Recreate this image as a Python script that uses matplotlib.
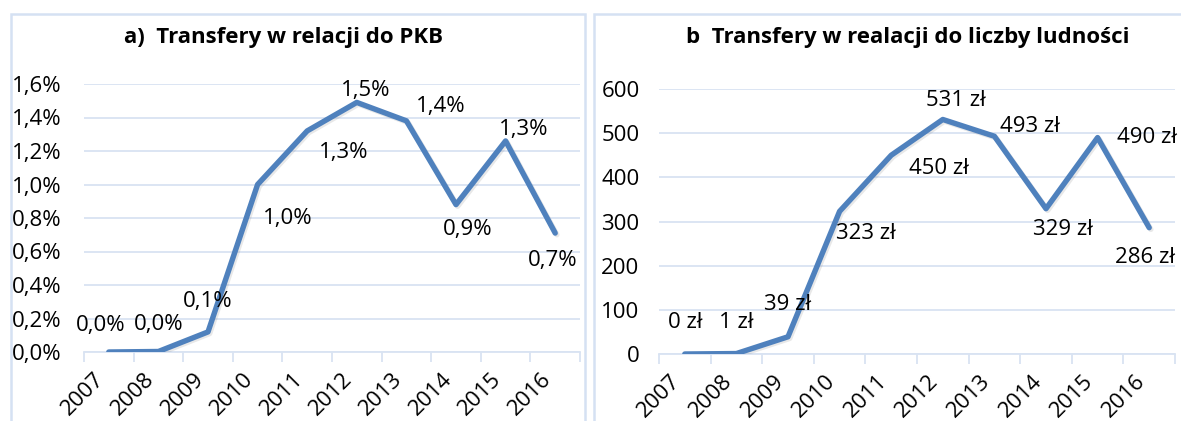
import matplotlib
matplotlib.use("Agg")
import matplotlib.pyplot as plt
from matplotlib.patches import Rectangle
from matplotlib.ticker import FixedLocator, FuncFormatter
import matplotlib.patheffects as pe

plt.rcParams['font.family'] = ['Open Sans', 'DejaVu Sans']

years = ["2007", "2008", "2009", "2010", "2011", "2012", "2013", "2014", "2015", "2016"]
gdp_share = [0.0, 0.003, 0.12, 1.0, 1.32, 1.49, 1.38, 0.88, 1.26, 0.71]   # % of GDP
per_capita = [0, 1, 39, 323, 450, 531, 493, 329, 490, 286]                 # zł per person
gdp_ticks = [0.0, 0.2, 0.4, 0.6, 0.8, 1.0, 1.2, 1.4, 1.6]
pc_ticks = [0, 100, 200, 300, 400, 500, 600]

# label offsets (pixels, right / up) for each data label
gdp_offsets = [(-8, 27), (0, 27), (0, 30), (30, -34), (36, -22),
               (9, 12), (34, 14), (12, -25), (18, 11), (-3, -27)]
pc_offsets = [(0, 31), (0, 31), (0, 32), (26, -22), (48, -13),
              (13, 19), (36, 10), (17, -21), (49, 0), (-4, -30)]

W, H = 1181, 421
LINE = "#4f81bd"
GRID = "#d9e3f2"
BORDER = "#d5e1f3"
FS = 16

fig = plt.figure(figsize=(W / 100, H / 100), dpi=100)


def px_box(x0, x1, ytop, ybot):
    return [x0 / W, 1 - ybot / H, (x1 - x0) / W, (ybot - ytop) / H]


# panel frames
for x0, x1 in [(11, 585), (594, 1200)]:
    fig.patches.append(Rectangle((x0 / W, -0.1), (x1 - x0) / W, 1.1 - 14 / H,
                                 transform=fig.transFigure, fill=False,
                                 edgecolor=BORDER, linewidth=1.8))


def panel(rect, values, yticks, ylim, fmt_tick, fmt_label, offsets, ypad):
    ax = fig.add_axes(rect)
    x = list(range(len(values)))
    ax.plot(x, values, color=LINE, lw=3.9, solid_capstyle='round', solid_joinstyle='round',
            zorder=3,
            path_effects=[pe.SimpleLineShadow(offset=(1.2, -1.2), shadow_color='gray', alpha=0.18),
                          pe.Normal()])
    ax.set_xlim(-0.5, len(values) - 0.5)
    ax.set_ylim(*ylim)
    ax.set_yticks(yticks)
    ax.yaxis.set_major_formatter(FuncFormatter(lambda v, p: fmt_tick(v)))
    ax.grid(axis='y', color=GRID, lw=1.3)
    ax.set_axisbelow(True)
    for s in ['top', 'right', 'left']:
        ax.spines[s].set_visible(False)
    ax.spines['bottom'].set_color(GRID)
    ax.spines['bottom'].set_linewidth(1.3)
    ax.set_xticks(x)
    ax.set_xticklabels(years, rotation=45, ha='right', va='top', fontsize=FS)
    ax.xaxis.set_minor_locator(FixedLocator([i - 0.5 for i in range(len(values) + 1)]))
    ax.tick_params(axis='x', which='major', length=0, pad=12)
    ax.tick_params(axis='x', which='minor', length=7, width=1.3, color=GRID, direction='out')
    ax.tick_params(axis='y', length=0, pad=ypad, labelsize=FS)
    for i, v in enumerate(values):
        dx, dy = offsets[i]
        ax.annotate(fmt_label(v), (i, v), xytext=(dx * 0.72, dy * 0.72),
                    textcoords='offset points', ha='center', va='center',
                    fontsize=FS, zorder=4)
    return ax


panel(px_box(84, 580, 84, 352), gdp_share, gdp_ticks, (0, 1.6),
      lambda v: f"{v:.1f}%".replace('.', ','),
      lambda v: f"{v:.1f}%".replace('.', ','),
      gdp_offsets, 16)

panel(px_box(659, 1175, 89, 354), per_capita, pc_ticks, (0, 600),
      lambda v: f"{v:.0f}",
      lambda v: f"{v:.0f} zł",
      pc_offsets, 14)

fig.text(283 / W, 1 - 37 / H, "a)  Transfery w relacji do PKB", ha='center', va='center',
         fontsize=16, fontweight='bold')
fig.text(908 / W, 1 - 37 / H, "b  Transfery w realacji do liczby ludności", ha='center', va='center',
         fontsize=16, fontweight='bold')

fig.savefig("out.png", dpi=100)
